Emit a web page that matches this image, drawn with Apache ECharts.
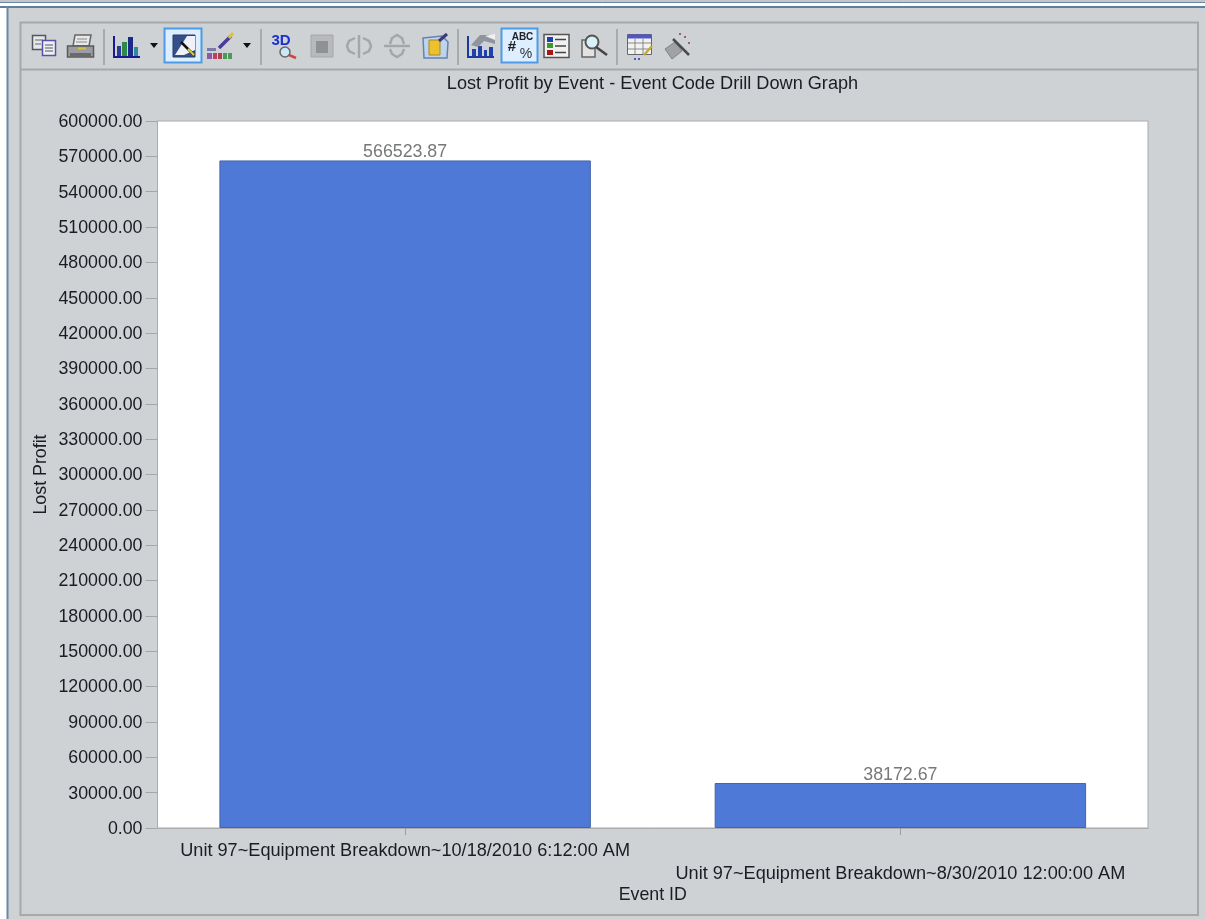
<!DOCTYPE html>
<html><head><meta charset="utf-8">
<style>html,body{margin:0;padding:0;background:#fff}#c{width:1205px;height:919px}</style>
<script src="https://cdn.jsdelivr.net/npm/echarts@6/dist/echarts.min.js"></script>
</head><body><div id="c"></div>
<script>
const categories = ['Unit 97~Equipment Breakdown~10/18/2010 6:12:00 AM','Unit 97~Equipment Breakdown~8/30/2010 12:00:00 AM'];
const lostProfit = [566523.87, 38172.67];
const titleText = 'Lost Profit by Event - Event Code Drill Down Graph';
const yName = 'Lost Profit';
const xName = 'Event ID';
const FONT = '"Liberation Sans", Arial, sans-serif';
const BG = '#cfd2d5', LINE = '#a8aaac', TXT = '#1c1c24';
const FS = 17.8, FSL = 18.15;

function R(x,y,w,h,fill,stroke,z,lw){return {type:'rect',silent:true,z:z==null?1:z,shape:{x,y,width:w,height:h},style:{fill:fill||'none',stroke:stroke||null,lineWidth:stroke?(lw||1):0}};}
function L(x1,y1,x2,y2,c,w){return {type:'line',silent:true,z:2,shape:{x1,y1,x2,y2},style:{stroke:c,lineWidth:w||1}};}
function P(pts,fill,stroke,w){return {type:'polygon',silent:true,z:2,shape:{points:pts},style:{fill:fill||'none',stroke:stroke||null,lineWidth:w||1}};}
function PL(pts,stroke,w){return {type:'polyline',silent:true,z:2,shape:{points:pts},style:{fill:'none',stroke,lineWidth:w||1}};}
function C(cx,cy,r,fill,stroke,w){return {type:'circle',silent:true,z:2,shape:{cx,cy,r},style:{fill:fill||'none',stroke:stroke||null,lineWidth:w||1}};}
function T(x,y,s,size,fill,weight){return {type:'text',silent:true,z:3,x,y,style:{text:s,font:(weight||'normal')+' '+size+'px '+FONT,fill,textAlign:'center',textVerticalAlign:'middle'}};}
function arrow(x){return P([[x,43],[x+8,43],[x+4,48]],'#111');}

const G='#a4a6a8';
const icons = [
  // copy
  R(32.5,35.5,13,14,'#e6e8ea','#55555f',1,1.5),L(35,40,43,40,'#666'),L(35,44,41,44,'#666'),
  R(42.5,40.5,13,15,'#eef0f5','#5a52a8',2,1.5),
  {...L(45,45,53,45,'#555'),z:3},{...L(45,48,53,48,'#555'),z:3},{...L(45,51,53,51,'#555'),z:3},
  // print
  P([[75,35],[91,35],[89,46],[73,46]],'#e8e8e8','#666',1.5),L(77,39,87,39,'#888'),L(76,42,87,42,'#888'),
  R(67.5,46,26,11,'#9b9da0','#5a5a5e',3,1.5),R(70,53,21,4,'#6a6a6e',null,4),R(78,47.5,8,2,'#d8c040',null,4),
  L(104,29,104,65,LINE,2),
  // chart type
  L(114,36,114,58,'#1a1a90',2),L(114,57,140,57,'#1a1a90',2),R(117,46,4,11,'#2a3a9a'),R(122,42,5,15,'#2f8a4a'),R(128,37,5,20,'#1c2a8a'),R(134,47,4,10,'#2f8a9a'),
  arrow(150),
  // selected pointer
  R(164.5,28.5,37,34,'#dceeff','#4d9be6',1,2),R(173,35,22,22,'#34508c','#2a3a60'),P([[175,55],[187,36],[195,36],[195,50],[184,55]],'#eef0fa'),L(181,42,193,54,'#111',2.5),L(188,49,194,55,'#d8d040',2),
  // palette
  L(219,48,231,36,'#4a3a9a',3.5),L(229,38,233,33,'#d8c838',3),R(207,48,9,3,'#7a7ab0'),R(207,53,5,6,'#8a5aa8'),R(213,53,4,6,'#c04060'),R(218,53,4,6,'#b04050'),R(223,53,4,6,'#4a9a5a'),R(228,53,4,6,'#4a9a5a'),
  arrow(243),
  L(261,29,261,65,LINE,2),
  // 3D
  T(281,41,'3D',15,'#1a30d0','bold'),C(285,52,5,'#c8e8f4','#666',1.5),L(289,55,296,58,'#c84848',2.5),
  // disabled
  R(311,35,22,22,'#b7b9bb',G),R(316,41,12,12,'#8f9194',null,2),
  L(359,35,359,58,G,2.5),PL([[355,38],[349,41],[347,46],[349,51],[355,54]],G,2.5),PL([[363,38],[369,41],[371,46],[369,51],[363,54]],G,2.5),
  L(384,46,410,46,G,2.5),PL([[390,44],[392,38],[397,35],[402,38],[404,44]],G,2.5),PL([[390,49],[392,54],[397,57],[402,54],[404,49]],G,2.5),
  // folder
  P([[423,38],[442,36],[448,42],[447,58],[424,58]],'#bcd4ee','#6a80b0',1.5),R(429,40,11,15,'#edc030','#a98a1a',3),{...L(439,41,447,34,'#3a3a7a',3),z:4},
  L(458,29,458,65,LINE,2),
  // area
  L(468,36,468,58,'#1a3aa0',2),L(468,57,494,57,'#1a3aa0',2),R(472,49,4,8,'#2040b0'),R(478,46,4,11,'#2040b0'),R(484,50,3,7,'#2040b0'),R(489,47,4,10,'#2040b0'),P([[471,45],[480,35],[495,35],[495,44],[484,41],[478,47]],'#90949c'),P([[485,36],[495,34],[495,40]],'#f0f0f4'),
  // labels selected
  R(501.5,28.5,36,34,'#dceeff','#4d9be6',1,2),T(522.5,37,'ABC',10,'#222','bold'),T(512,47,'#',15,'#222','bold'),T(526,54,'%',14,'#333'),
  // legend
  R(544,34.5,25,23,'#f0f0f0','#555',1,1.5),R(547,37,6,5,'#1a40b0',null,2),R(547,43,6,5,'#3a9a2a',null,2),R(547,50,6,5,'#a01a1a',null,2),L(555,39.5,566,39.5,'#444',1.5),L(555,46,566,46,'#444',1.5),L(555,52.5,566,52.5,'#444',1.5),
  // zoom doc
  R(582,40,13,17,'#e2e2e2','#666',1,1.5),C(592,42,6.5,'#d8f0f6','#555',2),L(596,47,607,55,'#444',2.5),
  L(617,29,617,65,LINE,2),
  // table
  R(627.5,34.5,24,20,'#f2f2f2','#666'),R(627.5,34.5,24,4,'#5056c8',null,2),L(628,43,651,43,'#888'),L(628,49,651,49,'#888'),L(635,39,635,54,'#888'),L(643,39,643,54,'#888'),L(644,55,652,46,'#c8a838',2.5),R(634,58,2,2,'#5056c8'),R(638,58,2,2,'#5056c8'),
  // wand
  P([[665,49],[675,42],[682,51],[672,59]],'#a0a2a4','#808284'),L(673,39,689,55,'#4a4a4e',2.5),R(684,36,2,2,'#a06060'),R(688,42,2,2,'#a06060'),R(679,33,2,2,'#a06060')
];

const frame = [
  R(0,0,1205,919,BG,null,-5),
  R(0,3,1205,3,'#ffffff',null,-4),
  R(0,0,1205,2,'#c4c6c8',null,-4),
  L(0,2.5,1205,2.5,'#6a86a8',1),
  L(0,7,1205,7,'#5f7f9f',2),
  R(0,8,7,911,'#ffffff',null,-4),
  L(7.5,6,7.5,919,'#6a88a8',2),
  R(20.5,22.5,1177.5,892.5,'none','#a6a8aa',0,2),
  L(21,69.5,1198,69.5,'#a6a8aa',2),
  ...icons
];

echarts.init(document.getElementById('c'),null,{renderer:'canvas'}).setOption({
  animation:false,
  backgroundColor:BG,
  textStyle:{fontFamily:FONT},
  title:{text:titleText,left:647.5,top:70,textAlign:'center',textStyle:{fontSize:FSL,fontWeight:'normal',color:TXT,fontFamily:FONT}},
  grid:{left:157.5,top:121,width:990.5,height:707,show:true,backgroundColor:'#fff',borderColor:'#a9abad',borderWidth:1,containLabel:false},
  xAxis:{type:'category',data:categories,name:xName,nameLocation:'middle',nameGap:58,nameMoveOverlap:false,
    nameTextStyle:{fontSize:FS,color:TXT,fontFamily:FONT},
    axisLine:{show:true,lineStyle:{color:'#a9abad'}},
    axisTick:{show:true,alignWithLabel:true,length:7,lineStyle:{color:'#9a9c9e'}},
    splitLine:{show:false},
    axisLabel:{interval:0,hideOverlap:false,margin:11,fontSize:FSL,lineHeight:23,color:TXT,fontFamily:FONT,
      formatter:(v,i)=>i%2? '\n'+v : v}},
  yAxis:{type:'value',min:0,max:600000,interval:30000,name:yName,nameLocation:'middle',nameRotate:90,nameGap:107,nameMoveOverlap:false,
    nameTextStyle:{fontSize:FS,color:TXT,fontFamily:FONT},
    axisLine:{show:true,lineStyle:{color:'#a9abad'}},
    axisTick:{show:true,length:12,lineStyle:{color:'#a4a6a8'}},
    splitLine:{show:false},
    axisLabel:{margin:15,color:TXT,fontFamily:FONT,fontSize:FS,
      rich:{t:{fontSize:FS,color:TXT,fontFamily:FONT,padding:[2,0,0,0]}},
      formatter:v=>'{t|'+v.toFixed(2)+'}'}},
  series:[{type:'bar',data:lostProfit,barCategoryGap:'25%',
    itemStyle:{color:'#4f79d6',borderColor:'#4464a8',borderWidth:1},
    label:{show:true,position:'top',distance:0,offset:[0,1],fontSize:FS,color:'#76787a',fontFamily:FONT,formatter:p=>p.value.toFixed(2)}}],
  graphic:{elements:frame}
});
</script></body></html>
